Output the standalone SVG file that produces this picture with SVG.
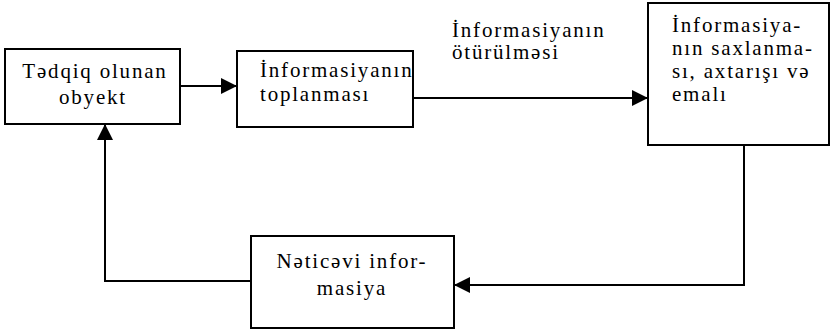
<svg xmlns="http://www.w3.org/2000/svg" width="833" height="334" viewBox="0 0 833 334">
<defs>
<style>
.box{fill:#fff;stroke:#000;stroke-width:2}
.t{font-family:"Liberation Serif","Times New Roman",serif;font-size:21px;letter-spacing:1.8px;fill:#000}
.c{text-anchor:middle}
.ln{fill:none;stroke:#000;stroke-width:2}
</style>
<marker id="ah" markerWidth="16" markerHeight="16" viewBox="0 0 16 16" refX="16" refY="8" orient="auto" markerUnits="userSpaceOnUse">
<path d="M0,0 L16,8 L0,16 Z" fill="#000"/>
</marker>
</defs>
<g id="connectors">
<line class="ln" x1="180" y1="86" x2="237" y2="86" marker-end="url(#ah)"/>
<line class="ln" x1="413" y1="98" x2="648" y2="98" marker-end="url(#ah)"/>
<polyline class="ln" points="744,145 744,285 454,285" marker-end="url(#ah)"/>
<polyline class="ln" points="251,281 105,281 105,124" marker-end="url(#ah)"/>
<text class="t" x="452" y="37">İnformasiyanın</text>
<text class="t" x="452" y="59">ötürülməsi</text>
</g>
<g id="n1">
<rect class="box" x="5" y="49" width="175" height="75"/>
<text class="t c" x="95" y="78">Tədqiq olunan</text>
<text class="t c" x="93" y="104">obyekt</text>
</g>
<g id="n2">
<rect class="box" x="237" y="51" width="176" height="76"/>
<text class="t" x="260" y="77">İnformasiyanın</text>
<text class="t" x="260" y="101">toplanması</text>
</g>
<g id="n3">
<rect class="box" x="648" y="3" width="181" height="142"/>
<text class="t" x="672" y="32">İnformasiya-</text>
<text class="t" x="672" y="55">nın saxlanma-</text>
<text class="t" x="672" y="78">sı, axtarışı və</text>
<text class="t" x="672" y="101">emalı</text>
</g>
<g id="n4">
<rect class="box" x="251" y="236" width="203" height="92"/>
<text class="t c" x="352" y="268">Nəticəvi infor-</text>
<text class="t c" x="352" y="295">masiya</text>
</g>
</svg>
